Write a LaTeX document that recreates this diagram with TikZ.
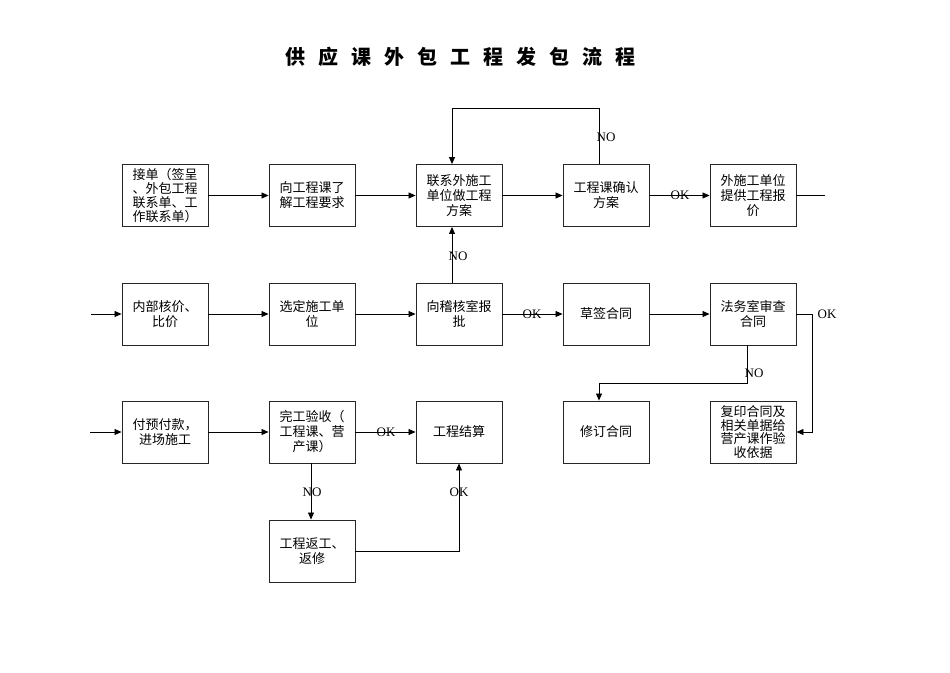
\documentclass[tikz,border=0pt]{standalone}
\usepackage{fontspec}
\setmainfont{Liberation Serif}
\newfontfamily\cjk{Noto Sans CJK SC}
\usetikzlibrary{arrows.meta}
\begin{document}
\begin{tikzpicture}[x=1pt,y=-1pt,
  box/.style={draw=black!85, line width=0.9pt, minimum width=86pt, minimum height=62pt,
    inner sep=0pt, align=center, font=\cjk\fontsize{13}{15}\selectfont},
  flow/.style={line width=0.8pt, -{Triangle[length=7pt,width=6pt]}},
  plain/.style={line width=0.8pt},
  lbl/.style={font=\fontsize{13}{14}\selectfont, inner sep=0pt}]
\useasboundingbox (0,0) rectangle (950,672);

\node[font=\cjk\bfseries\fontsize{20}{22}\selectfont] (title) at (460,57)
  {供\hspace{13pt}应\hspace{13pt}课\hspace{13pt}外\hspace{13pt}包\hspace{13pt}工\hspace{13pt}程\hspace{13pt}发\hspace{13pt}包\hspace{13pt}流\hspace{13pt}程};

% row 1
\node[box, font=\cjk\fontsize{13}{14}\selectfont] (A) at (165,195.5) {接单（签呈\\、外包工程\\联系单、工\\作联系单）};
\node[box] (B) at (312,195.5) {向工程课了\\解工程要求};
\node[box] (C) at (459,195.5) {联系外施工\\单位做工程\\方案};
\node[box] (D) at (606,195.5) {工程课确认\\方案};
\node[box] (E) at (753,195.5) {外施工单位\\提供工程报\\价};
% row 2
\node[box] (F) at (165,314) {内部核价、\\比价};
\node[box] (G) at (312,314) {选定施工单\\位};
\node[box] (H) at (459,314) {向稽核室报\\批};
\node[box] (I) at (606,314) {草签合同};
\node[box] (J) at (753,314) {法务室审查\\合同};
% row 3
\node[box] (M) at (165,432) {付预付款，\\进场施工};
\node[box] (N) at (312,432) {完工验收（\\工程课、营\\产课）};
\node[box] (O) at (459,432) {工程结算};
\node[box] (L) at (606,432) {修订合同};
\node[box, font=\cjk\fontsize{13}{13.5}\selectfont] (K) at (753,432) {复印合同及\\相关单据给\\营产课作验\\收依据};
\node[box] (P) at (312,551) {工程返工、\\返修};

\coordinate (inF) at (91,314);
\coordinate (inM) at (90,432);
\coordinate (outE) at (825,195.5);

% connectors row 1
\draw[flow] (A) -- (B);
\draw[flow] (B) -- (C);
\draw[flow] (C) -- (D);
\draw[flow] (D) -- (E);
\draw[plain] (E.east) -- (outE);
\draw[flow] ([xshift=-7pt]D.north) -- ++(0,-56) -| ([xshift=-7pt]C.north);
\draw[flow] ([xshift=-7pt]H.north) -- ([xshift=-7pt]C.south);
% row 2
\draw[flow] (inF) -- (F.west);
\draw[flow] (F) -- (G);
\draw[flow] (G) -- (H);
\draw[flow] (H) -- (I);
\draw[flow] (I) -- (J);
\draw[flow] (J.east) -- ++(16,0) |- (K.east);
\draw[flow] ([xshift=-6pt]J.south) -- ++(0,37.5) -| ([xshift=-7pt]L.north);
% row 3
\draw[flow] (inM) -- (M.west);
\draw[flow] (M) -- (N);
\draw[flow] (N) -- (O);
\draw[flow] ([xshift=-1pt]N.south) -- ([xshift=-1pt]P.north);
\draw[flow] (P.east) -| (O.south);

% labels
\node[lbl] (l1) at (606,137) {NO};
\node[lbl] (l2) at (680,195.5) {OK};
\node[lbl] (l3) at (458,256) {NO};
\node[lbl] (l4) at (532,314) {OK};
\node[lbl] (l5) at (827,314) {OK};
\node[lbl] (l6) at (754,373) {NO};
\node[lbl] (l7) at (386,432) {OK};
\node[lbl] (l8) at (312,492) {NO};
\node[lbl] (l9) at (459,492) {OK};
\end{tikzpicture}
\end{document}
